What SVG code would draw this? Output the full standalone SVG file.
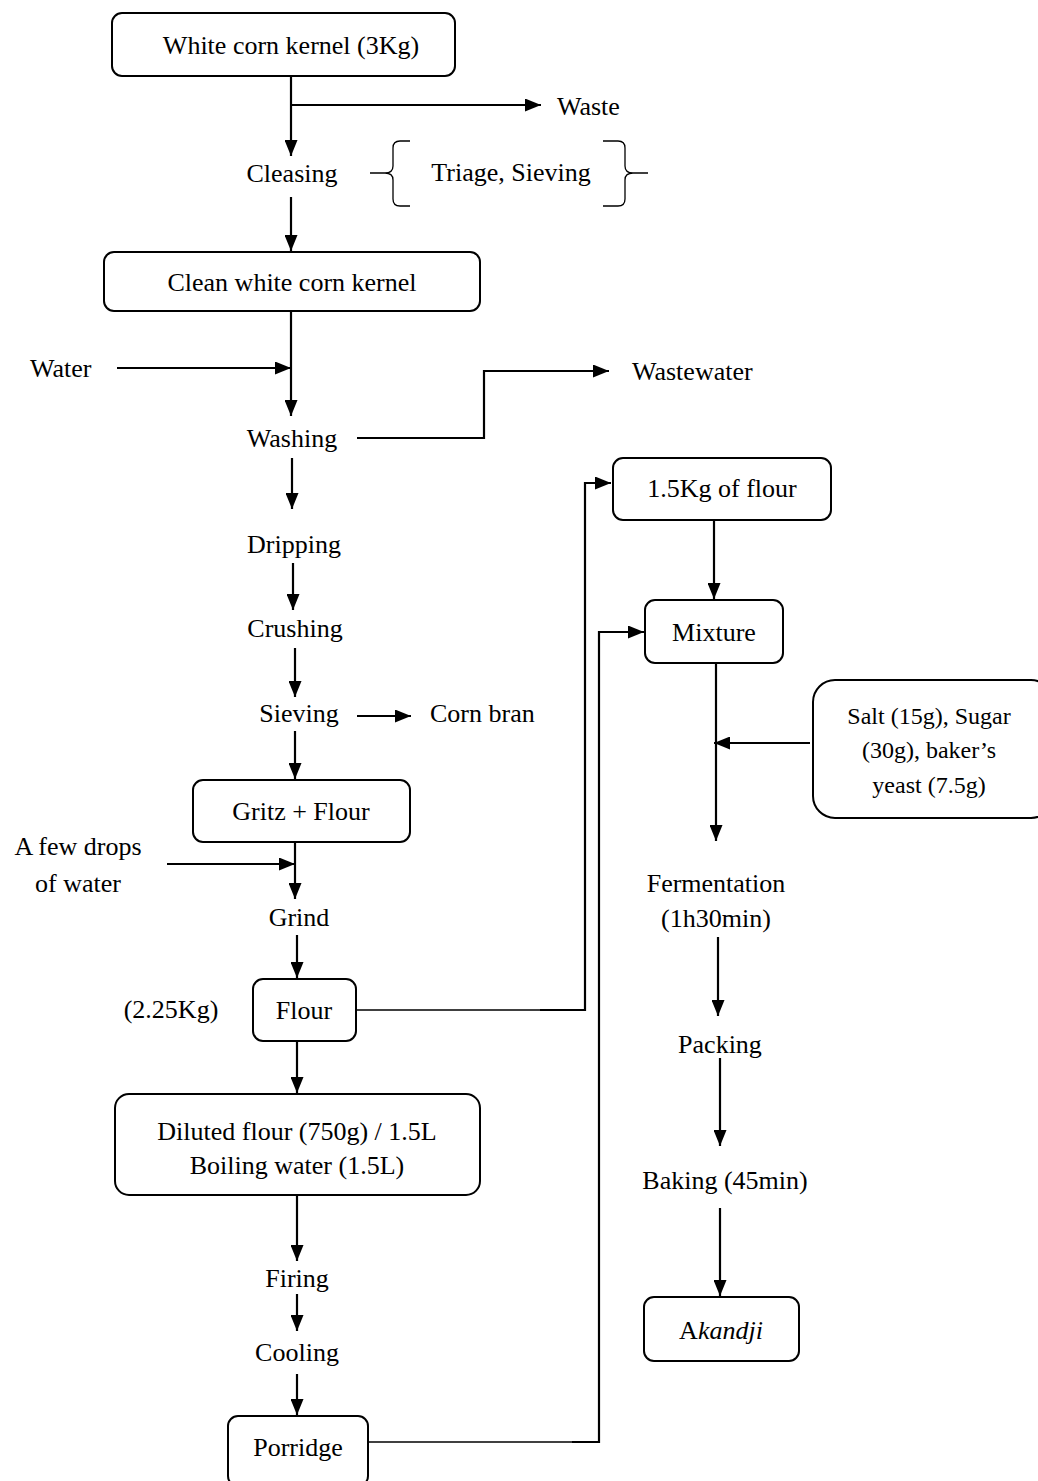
<svg xmlns="http://www.w3.org/2000/svg" width="1038" height="1481" viewBox="0 0 1038 1481">
<defs>
<marker id="ah" viewBox="0 0 16 13" refX="16" refY="6.5" markerWidth="16" markerHeight="13" markerUnits="userSpaceOnUse" orient="auto">
<path d="M0,0 L16,6.5 L0,13 Z" fill="#000"/>
</marker>
<style>
text{font-family:"Liberation Serif","Times New Roman",serif;font-size:26px;fill:#000}
.c{text-anchor:middle}
.s{font-size:24px}
.box{fill:#fff;stroke:#000;stroke-width:2}
.ln{fill:none;stroke:#000;stroke-width:2}
.ar{fill:none;stroke:#000;stroke-width:2.2;marker-end:url(#ah)}
.thin{fill:none;stroke:#000;stroke-width:1.3}
</style>
</defs>
<rect width="1038" height="1481" fill="#fff"/>

<g id="connectors">
<line class="ar" x1="291" y1="77" x2="291" y2="156"/>
<line class="ar" x1="291" y1="105" x2="541" y2="105"/>
<line class="ar" x1="291" y1="197" x2="291" y2="251"/>
<line class="ar" x1="291" y1="311" x2="291" y2="416"/>
<line class="ar" x1="117" y1="368" x2="291" y2="368"/>
<path class="ar" d="M357,438 H484 V371 H609"/>
<line class="ar" x1="292" y1="458" x2="292" y2="509"/>
<line class="ar" x1="293" y1="563" x2="293" y2="610"/>
<line class="ar" x1="295" y1="648" x2="295" y2="697"/>
<line class="ar" x1="357" y1="716" x2="411" y2="716"/>
<line class="ar" x1="295" y1="731" x2="295" y2="779"/>
<line class="ar" x1="295" y1="842" x2="295" y2="899"/>
<line class="ar" x1="167" y1="864" x2="295" y2="864"/>
<line class="ar" x1="297" y1="935" x2="297" y2="978"/>
<line class="thin" x1="356" y1="1010" x2="540" y2="1010"/>
<path class="ar" d="M540,1010 H585 V483 H611"/>
<line class="ar" x1="297" y1="1041" x2="297" y2="1093"/>
<line class="ar" x1="297" y1="1195" x2="297" y2="1261"/>
<line class="ar" x1="297" y1="1294" x2="297" y2="1331"/>
<line class="ar" x1="297" y1="1374" x2="297" y2="1415"/>
<line class="thin" x1="368" y1="1442" x2="572" y2="1442"/>
<path class="ar" d="M572,1442 H599 V632 H644"/>
<line class="ar" x1="714" y1="520" x2="714" y2="599"/>
<line class="ar" x1="716" y1="663" x2="716" y2="841"/>
<line class="ar" x1="810" y1="743" x2="714" y2="743"/>
<line class="ar" x1="718" y1="937" x2="718" y2="1016"/>
<line class="ar" x1="720" y1="1058" x2="720" y2="1146"/>
<line class="ar" x1="720" y1="1208" x2="720" y2="1296"/>
</g>

<g id="n-white-corn">
<rect class="box" x="112" y="13" width="343" height="63" rx="10"/>
<text class="c" x="291" y="54">White corn kernel (3Kg)</text>
</g>
<g id="n-waste"><text x="557" y="115">Waste</text></g>
<g id="n-cleasing"><text class="c" x="292" y="182">Cleasing</text></g>
<g id="n-triage">
<path class="thin" d="M410,141 H400 Q393,141 393,148 V166 Q393,173 385,173 H370 M385,173 Q393,173 393,180 V199 Q393,206 400,206 H410"/>
<path class="thin" d="M603,141 H618 Q625,141 625,148 V166 Q625,173 633,173 H648 M633,173 Q625,173 625,180 V199 Q625,206 618,206 H603"/>
<text class="c" x="511" y="181">Triage, Sieving</text>
</g>
<g id="n-clean">
<rect class="box" x="104" y="252" width="376" height="59" rx="10"/>
<text class="c" x="292" y="291">Clean white corn kernel</text>
</g>
<g id="n-water"><text x="30" y="377">Water</text></g>
<g id="n-wastewater"><text x="632" y="380">Wastewater</text></g>
<g id="n-washing"><text class="c" x="292" y="447">Washing</text></g>
<g id="n-dripping"><text class="c" x="294" y="553">Dripping</text></g>
<g id="n-crushing"><text class="c" x="295" y="637">Crushing</text></g>
<g id="n-sieving"><text class="c" x="299" y="722">Sieving</text></g>
<g id="n-cornbran"><text x="430" y="722">Corn bran</text></g>
<g id="n-gritz">
<rect class="box" x="193" y="780" width="217" height="62" rx="10"/>
<text class="c" x="301" y="820">Gritz + Flour</text>
</g>
<g id="n-drops">
<text class="c" x="78" y="855">A few drops</text>
<text class="c" x="78" y="892">of water</text>
</g>
<g id="n-grind"><text class="c" x="299" y="926">Grind</text></g>
<g id="n-225"><text class="c" x="171" y="1018">(2.25Kg)</text></g>
<g id="n-flour">
<rect class="box" x="253" y="979" width="103" height="62" rx="10"/>
<text class="c" x="304" y="1019">Flour</text>
</g>
<g id="n-diluted">
<rect class="box" x="115" y="1094" width="365" height="101" rx="14"/>
<text class="c" x="297" y="1140">Diluted flour (750g) / 1.5L</text>
<text class="c" x="297" y="1174">Boiling water (1.5L)</text>
</g>
<g id="n-firing"><text class="c" x="297" y="1287">Firing</text></g>
<g id="n-cooling"><text class="c" x="297" y="1361">Cooling</text></g>
<g id="n-porridge">
<rect class="box" x="228" y="1416" width="140" height="70" rx="10"/>
<text class="c" x="298" y="1456">Porridge</text>
</g>
<g id="n-15kg">
<rect class="box" x="613" y="458" width="218" height="62" rx="10"/>
<text class="c" x="722" y="497">1.5Kg of flour</text>
</g>
<g id="n-mixture">
<rect class="box" x="645" y="600" width="138" height="63" rx="10"/>
<text class="c" x="714" y="641">Mixture</text>
</g>
<g id="n-salt">
<rect class="box" x="813" y="680" width="240" height="138" rx="22"/>
<text class="c s" x="929" y="724">Salt (15g), Sugar</text>
<text class="c s" x="929" y="758">(30g), baker’s</text>
<text class="c s" x="929" y="793">yeast (7.5g)</text>
</g>
<g id="n-fermentation">
<text class="c" x="716" y="892">Fermentation</text>
<text class="c" x="716" y="927">(1h30min)</text>
</g>
<g id="n-packing"><text class="c" x="720" y="1053">Packing</text></g>
<g id="n-baking"><text class="c" x="725" y="1189">Baking (45min)</text></g>
<g id="n-akandji">
<rect class="box" x="644" y="1297" width="155" height="64" rx="10"/>
<text class="c" x="721" y="1339">A<tspan font-style="italic">kandji</tspan></text>
</g>
</svg>
